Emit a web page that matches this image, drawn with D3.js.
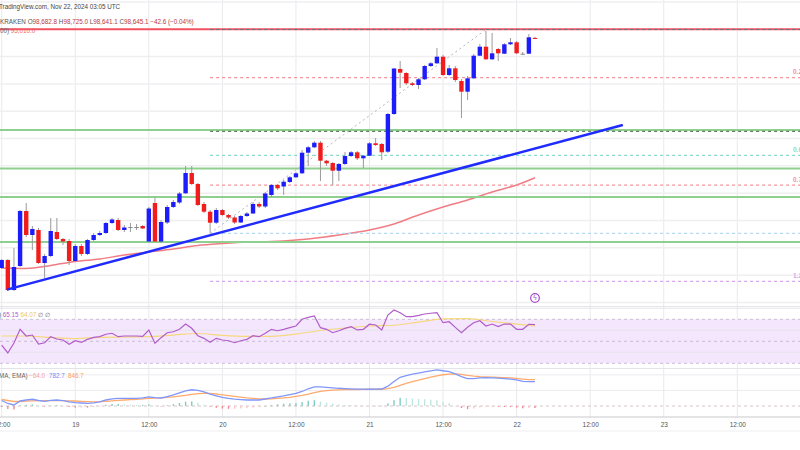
<!DOCTYPE html>
<html><head><meta charset="utf-8">
<script src="https://cdn.jsdelivr.net/npm/d3@7"></script>
<style>
html,body{margin:0;padding:0;background:#fff;overflow:hidden}
svg{display:block;font-family:"Liberation Sans",Arial,sans-serif}
</style>
</head><body>
<svg id="c" width="800" height="450"></svg>
<script>
// ---------- DATA (BTC/USD 1h, Kraken) ----------
const startTime = "2024-11-18T12:00:00Z";
const opens = [90261,90554,89456,90334,92347,91469,91652,90444,90700,91579,91323,91249,90517,91066,90774,91286,91469,91542,91908,92018,91652,91762,91762,91798,91231,92640,91231,91927,92494,92659,92995,93738,93336,92604,92322,91919,92384,92201,92110,91927,92164,92256,92604,92512,92933,93299,93244,93409,93581,93727,94481,94679,94847,94188,94104,93822,94068,94360,94496,94276,94371,94825,94800,94518,95898,97545,97398,97021,96959,97168,97654,97753,97995,97325,97570,97105,96714,97204,98031,98361,97900,98277,98105,98449,98522,98105,98105,98682.8];
const highs = [90591,90591,90993,92384,92640,91798,91725,90774,92091,92091,91359,91323,91140,91140,91323,91542,91615,91945,92091,92091,91835,91908,91872,91835,92494,92823,92018,92567,92750,93043,93994,93994,93372,92677,92384,92457,92421,92238,92164,92201,92311,92677,92677,93043,93336,93336,93482,93628,93775,94580,94726,94909,94909,94214,94141,94104,94507,94543,94543,94397,94873,95019,94836,95934,97581,97837,97435,97069,97215,97691,97801,98313,98057,97691,97654,97179,97288,98094,98460,98935,98862,98313,98496,98679,98569,98167,98826,98725.0];
const lows = [90224,89419,89419,90298,91396,90920,90408,89895,90664,91286,91103,90371,90481,90700,90737,91249,91432,91506,91872,91615,91579,91579,91652,91689,91213,91213,91176,91872,92457,92604,92970,93299,92530,92274,91542,91872,92164,92055,91872,91908,92128,92238,92457,92457,92860,93116,92933,93372,93555,93702,93994,94653,93445,93994,93299,93445,94031,94324,94214,93921,94360,94726,94214,94470,95861,96849,96959,96922,96813,97142,97618,97728,97288,97288,97069,95751,96410,97179,98020,97874,97874,97837,98094,98423,98094,98057,98094,98641.1];
const closes = [90554,89456,90298,92347,91469,91689,90444,90700,91615,91323,91231,90517,91066,90774,91286,91469,91542,91908,92036,91652,91744,91762,91762,91707,92439,91231,91945,92494,92677,92988,93738,93336,92567,92322,91919,92384,92201,92110,91927,92164,92256,92604,92512,92988,93299,93178,93420,93581,93727,94481,94679,94847,94188,94093,93822,94068,94360,94496,94276,94371,94825,94763,94496,95898,97563,97409,97021,96959,97168,97654,97753,97995,97325,97570,97142,96714,97204,98031,98361,97900,98119,98119,98449,98522,98119,98105,98705,98645.1];

// SMA(100) read at every 4th bar
const smaIndex = [0,4,8,12,16,20,24,28,32,36,40,44,48,52,56,60,64,68,72,76,80,84,87];
const smaValues = [90261,90243,90353,90499,90591,90737,90847,90957,91085,91158,91213,91231,91286,91378,91506,91652,91872,92201,92494,92750,93043,93299,93566];

// RSI(14) and its MA
const rsi = [46.6,39.4,48.5,60.9,54.8,55.7,47.5,48.7,54.2,52.1,51.2,47.3,50.5,49.1,51.8,53.6,54.2,56.4,57.3,54.2,54.8,54.8,54.8,54.4,60.3,48.2,53.3,57.8,58.7,60.9,65.7,61.8,55.1,52.7,49.1,52.7,51.2,50.5,48.7,50.5,51.8,55.1,54.2,57.3,60.9,59.6,60.9,62.4,63.9,70.0,71.8,73.0,62.4,60.9,57.8,59.6,61.8,63.3,60.3,60.9,65.5,64.8,60.3,73.9,78.5,76.0,72.4,72.4,73.5,74.8,75.5,76.0,66.9,67.8,62.7,57.8,62.7,66.9,68.7,63.9,65.7,63.3,65.7,65.7,60.9,60.9,65.5,65.15];
const rsiMaIndex = [0,4,8,12,16,20,24,28,32,36,40,44,48,52,56,60,64,68,72,76,80,84,87];
const rsiMaValues = [54.8,54.8,53.5,52.5,53.6,53.9,54.2,55.7,57.1,55.3,54.4,54.5,56.6,59.8,62.1,63.9,64.6,67.5,70.3,70.7,68.0,65.7,64.07];

// MACD(12,26,9)
const macd = [177,81,32,161,193,216,177,151,184,193,171,135,106,97,87,103,129,193,232,245,248,248,248,264,296,270,258,299,354,419,483,522,502,451,380,328,277,242,219,206,193,193,193,225,258,296,328,367,403,467,554,618,612,602,586,570,560,551,544,541,538,541,547,638,789,924,979,1024,1059,1095,1127,1159,1133,1108,1030,947,882,882,902,908,902,895,882,866,837,792,786,782.7];
const signal = [209,177,145,145,155,167,171,171,171,171,171,167,161,151,142,135,138,151,167,180,193,206,216,229,242,251,261,277,296,319,345,374,399,409,403,386,361,335,309,283,261,245,232,225,229,242,258,280,309,341,383,431,467,493,509,518,525,528,531,535,538,538,538,557,602,663,725,782,834,879,927,972,1005,1024,1030,1014,985,963,947,937,927,921,914,902,886,866,850,846.7];

// Drawings
const resistancePrice = 99000;
const supportLevels = [95312, 93903, 92860, 91213];
const trendPoints = [{t:"2024-11-18T13:00:00Z", p:89480},{t:"2024-11-22T17:10:00Z", p:95485}];
const fibStart = "2024-11-19T22:00:00Z", fibEnd = "2024-11-21T19:00:00Z";
const fibHigh = 98990, fibLow = 91531;
const fibRatios = [0, 0.236, 0.5, 0.618, 0.764, 1, 1.236];
const fibLabels = ["", "0.236", "", "0.618", "0.764", "", "1.236"];
const fibColors = ["#6b6f78","#f4939b","#5f7f62","#86dccb","#f4939b","#b2dbf3","#d9a3f2"];
const priceTicks = d3.range(89000, 100001, 1000);
const rsiGrid = [20,40,60,80], rsiBands = [70,50,30];
const macdGrid = [500,1000];

// ---------- CHART ----------
const svg = d3.select("#c");
const t0 = new Date(startTime);
const times = opens.map((_, i) => d3.utcHour.offset(t0, i));
const x = d3.scaleUtc().domain([t0, d3.utcHour.offset(t0, 120)]).range([1.7, 737.3]);
const y = d3.scaleLinear().domain([89090, 100070]).range([300, 0]);
const yR = d3.scaleLinear().domain([30, 70]).range([363.3, 319.3]);
const yM = d3.scaleLinear().domain([0, 1000]).range([406, 374.9]);

const MAIN_B = 306, RSI_T = 306.5, RSI_B = 368, MACD_T = 368.5, MACD_B = 417;

const defs = svg.append("defs");
defs.append("clipPath").attr("id","cm").append("rect").attr("x",0).attr("y",0).attr("width",800).attr("height",MAIN_B);
defs.append("clipPath").attr("id","cr").append("rect").attr("x",0).attr("y",RSI_T).attr("width",800).attr("height",RSI_B-RSI_T);
defs.append("clipPath").attr("id","cd").append("rect").attr("x",0).attr("y",MACD_T).attr("width",800).attr("height",MACD_B-MACD_T);

// vertical grid
const xTicks = d3.utcHour.every(12).range(x.invert(-10), x.invert(810));
svg.append("g").selectAll("line").data(xTicks).join("line")
  .attr("x1", d => x(d)).attr("x2", d => x(d)).attr("y1", 0).attr("y2", MACD_B)
  .attr("stroke", "#e9e9ec").attr("stroke-width", 1);

// main pane horizontal grid
const gm = svg.append("g").attr("clip-path","url(#cm)");
gm.selectAll("line.g").data(priceTicks).join("line").attr("class","g")
  .attr("x1",0).attr("x2",800).attr("y1",d=>y(d)).attr("y2",d=>y(d))
  .attr("stroke","#efeff2").attr("stroke-width",1.5);

// SMA
gm.append("path").datum(smaIndex.map((k,j)=>[times[k], smaValues[j]]))
  .attr("fill","none").attr("stroke","#f07d84").attr("stroke-width",1.5)
  .attr("d", d3.line().x(d=>x(d[0])).y(d=>y(d[1])).curve(d3.curveMonotoneX));

// resistance (red) and supports (green)
gm.append("line").attr("x1",0).attr("x2",800).attr("y1",y(resistancePrice)).attr("y2",y(resistancePrice))
  .attr("stroke","#f23645").attr("stroke-opacity",0.85).attr("stroke-width",2);
gm.selectAll("line.s").data(supportLevels).join("line").attr("class","s")
  .attr("x1",0).attr("x2",800).attr("y1",d=>y(d)).attr("y2",d=>y(d))
  .attr("stroke","#8fd08f").attr("stroke-width",2);

// Fibonacci
const fx0 = x(new Date(fibStart)), fx1 = x(new Date(fibEnd));
const fibPrice = r => fibHigh - r*(fibHigh - fibLow);
gm.selectAll("line.f").data(fibRatios).join("line").attr("class","f")
  .attr("x1",fx0).attr("x2",800).attr("y1",d=>y(fibPrice(d))).attr("y2",d=>y(fibPrice(d)))
  .attr("stroke",(d,i)=>fibColors[i]).attr("stroke-width",1.2).attr("stroke-dasharray","3,3");
gm.append("line").attr("x1",fx0).attr("y1",y(fibLow)).attr("x2",fx1).attr("y2",y(fibHigh))
  .attr("stroke","#b4b7bd").attr("stroke-width",1).attr("stroke-dasharray","2,3");
gm.selectAll("text.f").data(fibRatios).join("text").attr("class","f")
  .attr("x",793).attr("y",d=>y(fibPrice(d))-3.5)
  .attr("fill",(d,i)=>fibColors[i]).attr("font-size",6.5).attr("font-weight","bold")
  .text((d,i)=>fibLabels[i]);

// candles
const cg = gm.append("g");
const col = i => closes[i] > opens[i] ? "#1d1dfb" : closes[i] < opens[i] ? "#f21c1c" : "#8a8a8a";
cg.selectAll("line.w").data(times).join("line").attr("class","w")
  .attr("x1",d=>x(d)).attr("x2",d=>x(d)).attr("y1",(d,i)=>y(highs[i])).attr("y2",(d,i)=>y(lows[i]))
  .attr("stroke","#9a9a9a").attr("stroke-width",1);
cg.selectAll("rect").data(times).join("rect")
  .attr("x",d=>x(d)-2.2).attr("width",4.4)
  .attr("y",(d,i)=>y(Math.max(opens[i],closes[i])))
  .attr("height",(d,i)=>Math.max(1, Math.abs(y(opens[i])-y(closes[i]))))
  .attr("fill",(d,i)=>col(i));

// trend line
gm.append("line")
  .attr("x1",x(new Date(trendPoints[0].t))).attr("y1",y(trendPoints[0].p))
  .attr("x2",x(new Date(trendPoints[1].t))).attr("y2",y(trendPoints[1].p))
  .attr("stroke","#1f2bff").attr("stroke-width",2.5).attr("stroke-linecap","round");

// event marker
const mk = svg.append("g").attr("transform",`translate(${x(times[87])},298)`);
mk.append("circle").attr("r",4.3).attr("fill","#fff").attr("stroke","#a648c9").attr("stroke-width",1.2);
mk.append("text").attr("text-anchor","middle").attr("y",2.3).attr("font-size",6.5).attr("fill","#a648c9").text("ϟ");

// header
const hd = svg.append("g").attr("font-size",6.3);
hd.append("text").attr("x",-1).attr("y",9).attr("fill","#444").text("TradingView.com, Nov 22, 2024 03:05 UTC");
const h2 = hd.append("text").attr("x",0).attr("y",24.2).attr("fill","#555");
h2.append("tspan").text("KRAKEN ");
[["O","98,682.8"],["H","98,725.0"],["L","98,641.1"],["C","98,645.1"]].forEach(([k,v])=>{
  h2.append("tspan").attr("fill","#555").text(k);
  h2.append("tspan").attr("fill","#b8393d").text(v+" ");
});
h2.append("tspan").attr("fill","#b8393d").text("\u221242.6 (\u22120.04%)");
const h3 = hd.append("text").attr("x",0).attr("y",33.4);
h3.append("tspan").attr("fill","#666").text("00) ");
h3.append("tspan").attr("fill","#f0646c").text("95,010.0");

// pane separators
[MAIN_B+0.5, RSI_B+0.5].forEach(v=>svg.append("line").attr("x1",0).attr("x2",800).attr("y1",v).attr("y2",v).attr("stroke","#e3e4e8").attr("stroke-width",1.2));

// ---- RSI pane ----
const gr = svg.append("g").attr("clip-path","url(#cr)");
gr.append("rect").attr("x",0).attr("width",800).attr("y",yR(70)).attr("height",yR(30)-yR(70)).attr("fill","#f3e6fd");
gr.selectAll("line.g").data(rsiGrid).join("line").attr("class","g")
  .attr("x1",0).attr("x2",800).attr("y1",d=>yR(d)).attr("y2",d=>yR(d)).attr("stroke","#e6e3ea").attr("stroke-width",1);
gr.selectAll("line.b").data(rsiBands).join("line").attr("class","b")
  .attr("x1",0).attr("x2",800).attr("y1",d=>yR(d)).attr("y2",d=>yR(d))
  .attr("stroke","#c9bfd4").attr("stroke-width",1).attr("stroke-dasharray","3,3");
gr.append("path").datum(rsiMaIndex.map((k,j)=>[times[k], rsiMaValues[j]]))
  .attr("fill","none").attr("stroke","#f6d87e").attr("stroke-width",1.2)
  .attr("d", d3.line().x(d=>x(d[0])).y(d=>yR(d[1])).curve(d3.curveMonotoneX));
gr.append("path").datum(rsi)
  .attr("fill","none").attr("stroke","#b25dca").attr("stroke-width",1.2)
  .attr("d", d3.line().x((d,i)=>x(times[i])).y(d=>yR(d)));
const rl = svg.append("text").attr("x",-1).attr("y",316.5).attr("font-size",6.3);
rl.append("tspan").attr("fill","#666").text(") ");
rl.append("tspan").attr("fill","#b25dca").text("65.15 ");
rl.append("tspan").attr("fill","#e9c85a").text("64.07 ");
rl.append("tspan").attr("fill","#666").text(" \u2205  \u2205");

// ---- MACD pane ----
const gd = svg.append("g").attr("clip-path","url(#cd)");
gd.selectAll("line.g").data(macdGrid).join("line").attr("class","g")
  .attr("x1",0).attr("x2",800).attr("y1",d=>yM(d)).attr("y2",d=>yM(d)).attr("stroke","#ececf0").attr("stroke-width",1);
gd.append("line").attr("x1",0).attr("x2",800).attr("y1",yM(0)).attr("y2",yM(0))
  .attr("stroke","#d8c3c6").attr("stroke-width",1).attr("stroke-dasharray","3,3");
const hist = macd.map((m,i)=>m - signal[i]);
const hcol = (h,i) => {
  const prev = i>0 ? hist[i-1] : h;
  if (h >= 0) return h >= prev ? "#7fcfc4" : "#bfe6e0";
  return h <= prev ? "#f58a92" : "#f9c6cb";
};
gd.selectAll("rect").data(hist).join("rect")
  .attr("x",(d,i)=>x(times[i])-0.7).attr("width",1.4)
  .attr("y",d=>Math.min(yM(d),yM(0))).attr("height",d=>Math.max(0.5,Math.abs(yM(d)-yM(0))))
  .attr("fill",(d,i)=>hcol(d,i));
gd.append("path").datum(signal).attr("fill","none").attr("stroke","#ffab6e").attr("stroke-width",1.3)
  .attr("d", d3.line().x((d,i)=>x(times[i])).y(d=>yM(d)));
gd.append("path").datum(macd).attr("fill","none").attr("stroke","#7f97fb").attr("stroke-width",1.3)
  .attr("d", d3.line().x((d,i)=>x(times[i])).y(d=>yM(d)));
const ml = svg.append("g").attr("font-size",6.3);
ml.append("text").attr("x",-1).attr("y",378).attr("fill","#666").text("MA, EMA)");
ml.append("text").attr("x",29).attr("y",378).attr("fill","#f3a0a7").text("\u221264.0");
ml.append("text").attr("x",49).attr("y",378).attr("fill","#6f8cf7").text("782.7");
ml.append("text").attr("x",68).attr("y",378).attr("fill","#ff9a55").text("846.7");

// ---- time axis ----
svg.append("line").attr("x1",0).attr("x2",800).attr("y1",MACD_B).attr("y2",MACD_B).attr("stroke","#c9cad0").attr("stroke-width",1.2);
svg.append("line").attr("x1",0).attr("x2",800).attr("y1",431).attr("y2",431).attr("stroke","#eeeef1").attr("stroke-width",1);
const ax = svg.append("g").attr("transform",`translate(0,${MACD_B+2})`)
  .call(d3.axisBottom(x).tickValues(xTicks).tickSize(0).tickPadding(3)
    .tickFormat(d => d.getUTCHours()===12 ? "12:00" : String(d.getUTCDate())));
ax.select(".domain").remove();
ax.selectAll("text").attr("font-size",6.5).attr("fill","#555").attr("font-family","Liberation Sans, Arial, sans-serif");
</script>
</body></html>
